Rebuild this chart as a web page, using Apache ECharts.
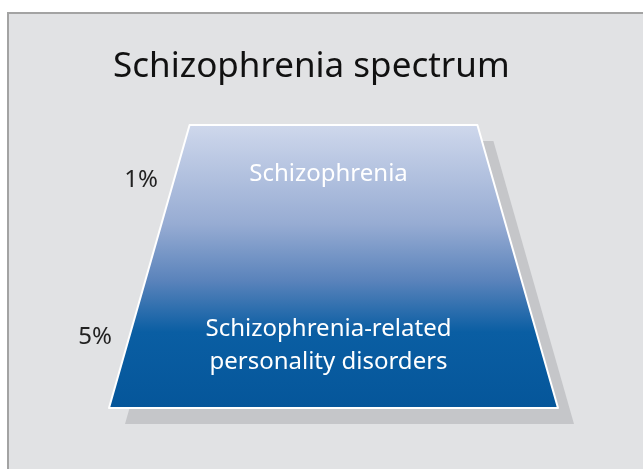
<!DOCTYPE html>
<html style="height: 100%">
<head>
    <meta charset="utf-8">
</head>
<body style="height: 100%; margin: 0; background: #fff">
    <div id="container" style="width: 643px; height: 469px"></div>

    <script type="text/javascript" src="https://cdn.jsdelivr.net/npm/echarts@6/dist/echarts.min.js"></script>
    <script type="text/javascript">
        var titleText = 'Schizophrenia spectrum';
        var categories = ['Schizophrenia', 'Schizophrenia-related\npersonality disorders'];
        var prevalence = [1, 5];
        var pctLabels = ['1%', '5%'];

        var font = 'Noto Sans';
        var dom = document.getElementById("container");
        var myChart = echarts.init(dom);
        var option;
        var maxVal = Math.max.apply(null, prevalence);

        // the trapezoid for the whole spectrum (and its flat grey shadow)
        function trapezoid(left, top, style, z) {
            return {
                type: 'funnel',
                sort: 'ascending',
                left: left, top: top, width: 449, height: 283,
                min: 0,
                max: maxVal,
                minSize: '64.1%',
                maxSize: '100%',
                gap: 0,
                z: z,
                silent: true,
                label: { show: false },
                labelLine: { show: false },
                itemStyle: style,
                data: [{ name: titleText, value: maxVal }]
            };
        }

        var shadowSeries = trapezoid(125, 141, { color: '#c5c6c9', borderWidth: 0 }, 1);
        var shapeSeries = trapezoid(109, 125, {
            borderColor: '#fff',
            borderWidth: 2,
            color: new echarts.graphic.LinearGradient(0, 0, 0, 1, [
                { offset: 0, color: '#cfd8ec' },
                { offset: 0.35, color: '#97acd3' },
                { offset: 0.55, color: '#5a83bb' },
                { offset: 0.73, color: '#0a5ea3' },
                { offset: 1, color: '#05569a' }
            ])
        }, 2);

        // names written inside the trapezoid
        var nameSeries = {
            type: 'funnel',
            sort: 'none',
            left: 104, top: 125, width: 449, height: 283,
            minSize: '100%', maxSize: '100%',
            gap: 0,
            z: 3,
            silent: true,
            itemStyle: { color: 'transparent', borderWidth: 0 },
            label: {
                position: 'inside',
                color: '#fff',
                fontFamily: font,
                fontSize: 24,
                lineHeight: 33
            },
            labelLine: { show: false },
            data: [
                { name: categories[0], value: prevalence[0], itemStyle: { height: 98 } },
                { name: '', value: 0, itemStyle: { height: 61 }, label: { show: false } },
                { name: categories[1], value: prevalence[1], itemStyle: { height: 124 } }
            ]
        };

        // percentages on the left
        var pctSeries = {
            type: 'funnel',
            sort: 'none',
            left: 163, top: 125, width: 300, height: 283,
            minSize: '100%', maxSize: '100%',
            gap: 0,
            z: 3,
            silent: true,
            itemStyle: { color: 'transparent', borderWidth: 0 },
            label: {
                position: 'left',
                color: '#222',
                fontFamily: font,
                fontSize: 24,
                formatter: function (p) { return pctLabels[p.dataIndex === 0 ? 0 : 1]; }
            },
            labelLine: { show: false },
            data: [
                { name: 'a', value: prevalence[0], itemStyle: { height: 110 }, labelLine: { length: 0 } },
                { name: 'b', value: 0, itemStyle: { height: 31 }, label: { show: false } },
                { name: 'c', value: prevalence[1], itemStyle: { height: 142 }, labelLine: { length: 46 } }
            ]
        };

        option = {
            backgroundColor: '#fff',
            animation: false,
            title: {
                text: titleText,
                left: 113,
                top: 50,
                padding: 0,
                textStyle: {
                    fontFamily: font,
                    fontSize: 35,
                    fontWeight: 'normal',
                    color: '#111'
                }
            },
            graphic: [{
                type: 'rect',
                z: -10,
                shape: { x: 8, y: 13, width: 700, height: 500 },
                style: { fill: '#e1e2e4', stroke: '#a3a3a3', lineWidth: 2 }
            }],
            series: [shadowSeries, shapeSeries, nameSeries, pctSeries]
        };
        myChart.setOption(option);
    </script>
</body>
</html>
